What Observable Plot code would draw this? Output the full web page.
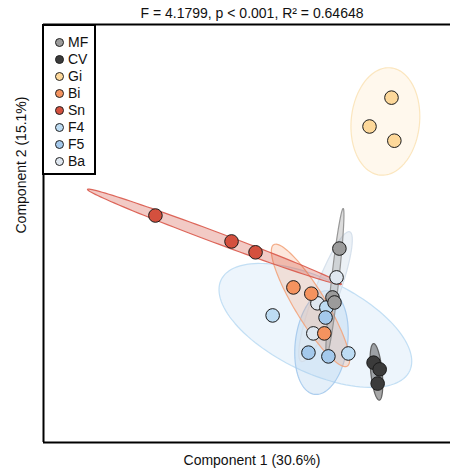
<!DOCTYPE html>
<html>
<head>
<meta charset="utf-8">
<script src="https://cdn.jsdelivr.net/npm/d3@7"></script>
<script src="https://cdn.jsdelivr.net/npm/@observablehq/plot@0.6"></script>
<style>
  body { margin: 0; background: #fff; font-family: "Liberation Sans", Arial, sans-serif; }
  #wrap { position: relative; width: 450px; height: 470px; overflow: hidden; }
  #legend { position: absolute; left: 42px; top: 24px; width: 50px; height: 147px; border: 2px solid #000; background: #fff; }
  .item { position: absolute; left: 0; height: 17px; font-size: 14px; color: #111; line-height: 17px; }
  .dot { position: absolute; left: 11px; top: 4px; width: 7px; height: 7px; border-radius: 50%; border: 1px solid #222; box-sizing: content-box; }
  .lab { position: absolute; left: 24px; top: 0; white-space: nowrap; }
</style>
</head>
<body>
<div id="wrap"></div>
<script>
// Groups and colours
const groups = ["MF", "CV", "Gi", "Bi", "Sn", "F4", "F5", "Ba"];
const colors = ["#9b9b9b", "#3b3b3b", "#fdd89a", "#f4935f", "#d4503e", "#bddcf3", "#a4c9ec", "#dfe7f0"];

// Sample scores (Component 1, Component 2)
const ptGroup = ["Ba", "Ba", "Ba", "F4", "F4", "F4", "F5", "F5", "F5", "Bi", "Bi", "Bi", "MF", "MF", "MF", "CV", "CV", "CV", "Sn", "Sn", "Sn", "Gi", "Gi", "Gi"];
const ptX = [0.220, 0.173, 0.163, 0.063, 0.195, 0.249, 0.193, 0.151, 0.200, 0.114, 0.158, 0.190, 0.227, 0.210, 0.215, 0.311, 0.326, 0.321, -0.225, -0.038, 0.021, 0.355, 0.301, 0.362];
const ptY = [-0.105, -0.167, -0.239, -0.196, -0.177, -0.287, -0.201, -0.285, -0.294, -0.129, -0.144, -0.239, -0.036, -0.153, -0.165, -0.309, -0.325, -0.359, 0.043, -0.019, -0.045, 0.325, 0.256, 0.222];

// Confidence ellipses: centre, semi-axes, angle (degrees)
const ellGroup = ["F4", "F5", "Ba", "Bi", "Sn", "MF", "CV", "Gi"];
const ellCx = [0.168, 0.183, 0.193, 0.156, -0.080, 0.216, 0.318, 0.340];
const ellCy = [-0.220, -0.261, -0.151, -0.172, -0.008, -0.116, -0.331, 0.268];
const ellA = [0.256, 0.125, 0.166, 0.171, 0.332, 0.177, 0.068, 0.129];
const ellB = [0.112, 0.064, 0.030, 0.038, 0.013, 0.009, 0.014, 0.084];
const ellAngle = [-25, 82, 69, 122, -20, 83.4, 96, 84];
const ellFillOpacity = [0.28, 0.3, 0.6, 0.22, 0.3, 0.35, 0.45, 0.18];
const ellStroke = ["#bddcf3", "#a4c9ec", "#d3deea", "#f2a47c", "#d9584a", "#8e8e8e", "#555555", "#fbe3b8"];

const colorOf = Object.fromEntries(groups.map((g, i) => [g, colors[i]]));

const points = ptGroup.map((g, i) => ({group: g, x: ptX[i], y: ptY[i]}));

const ellPts = [];
ellGroup.forEach((g, i) => {
  const th = ellAngle[i] * Math.PI / 180;
  const n = 120;
  for (let k = 0; k < n; k++) {
    const t = 2 * Math.PI * k / n;
    const ex = ellA[i] * Math.cos(t), ey = ellB[i] * Math.sin(t);
    ellPts.push({group: g, x: ellCx[i] + ex * Math.cos(th) - ey * Math.sin(th), y: ellCy[i] + ex * Math.sin(th) + ey * Math.cos(th)});
  }
});

const ellMarks = ellGroup.map((g, i) => Plot.line(ellPts.filter(d => d.group === g), {
  x: "x", y: "y", curve: "linear-closed",
  fill: colorOf[g], fillOpacity: ellFillOpacity[i],
  stroke: ellStroke[i], strokeOpacity: 0.9, strokeWidth: 1.2
}));

const xDomain = [-0.5, 0.5], yDomain = [-0.5, 0.5];

const chart = Plot.plot({
  width: 450, height: 470,
  marginLeft: 43, marginRight: 0, marginTop: 24, marginBottom: 28,
  x: {domain: xDomain, axis: null},
  y: {domain: yDomain, axis: null},
  style: {fontFamily: "'Liberation Sans', Arial, sans-serif", fontSize: "13px", background: "#fff"},
  marks: [
    ...ellMarks,
    Plot.dot(points, {x: "x", y: "y", r: 6.8, fill: d => colorOf[d.group], stroke: "#1a1a1a", strokeWidth: 1}),
    Plot.ruleX([xDomain[0]], {stroke: "#000", strokeWidth: 2}),
    Plot.ruleY(yDomain, {stroke: "#000", strokeWidth: 2}),
    Plot.text(["F = 4.1799, p < 0.001, R² = 0.64648"], {frameAnchor: "top", lineAnchor: "middle", dy: -11, dx: 5, fontSize: 14, fill: "#111"}),
    Plot.text(["Component 1 (30.6%)"], {frameAnchor: "bottom", lineAnchor: "middle", dy: 18, dx: 5, fontSize: 14, fill: "#111"}),
    Plot.text(["Component 2 (15.1%)"], {frameAnchor: "left", lineAnchor: "middle", dx: -22, rotate: -90, fontSize: 14, fill: "#111"})
  ]
});

const wrap = document.getElementById("wrap");
wrap.appendChild(chart);

const legend = document.createElement("div");
legend.id = "legend";
groups.forEach((g, i) => {
  const it = document.createElement("div");
  it.className = "item";
  it.style.top = (8 + i * 17) + "px";
  it.innerHTML = `<span class="dot" style="background:${colors[i]}"></span><span class="lab">${g}</span>`;
  legend.appendChild(it);
});
wrap.appendChild(legend);
</script>
</body>
</html>
